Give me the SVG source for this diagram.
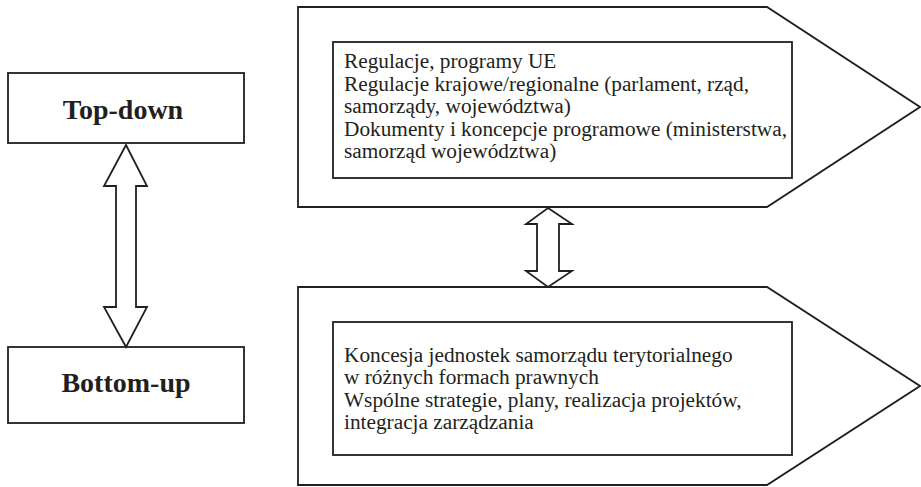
<svg xmlns="http://www.w3.org/2000/svg" width="921" height="487" viewBox="0 0 921 487">
<style>
.sh{fill:#fff;stroke:#231f20;stroke-width:1.8;stroke-linejoin:miter}
.lbl{font-family:"Liberation Serif","Times New Roman",serif;font-weight:bold;font-size:28px;fill:#231f20;text-anchor:middle}
.txt{font-family:"Liberation Serif","Times New Roman",serif;font-size:21.3px;fill:#231f20}
</style>
<rect width="921" height="487" fill="#fff"/>
<g id="top-down">
<rect class="sh" x="8" y="73" width="236" height="70"/>
<text class="lbl" x="123" y="119">Top-down</text>
</g>
<g id="bottom-up">
<rect class="sh" x="8" y="347" width="236" height="76"/>
<text class="lbl" x="126" y="392">Bottom-up</text>
</g>
<g id="top-panel">
<polygon class="sh" points="298,7 767,7 920,107 767,207 298,207"/>
<rect class="sh" x="333" y="42" width="459" height="136"/>
<text class="txt" x="344" y="68">Regulacje, programy UE</text>
<text class="txt" x="344" y="91">Regulacje krajowe/regionalne (parlament, rząd,</text>
<text class="txt" x="344" y="113">samorządy, województwa)</text>
<text class="txt" x="344" y="136">Dokumenty i koncepcje programowe (ministerstwa,</text>
<text class="txt" x="344" y="158">samorząd województwa)</text>
</g>
<g id="bottom-panel">
<polygon class="sh" points="298,287 767,287 920,386 767,485 298,485"/>
<rect class="sh" x="333" y="322" width="459" height="133"/>
<text class="txt" x="344" y="362">Koncesja jednostek samorządu terytorialnego</text>
<text class="txt" x="344" y="384">w różnych formach prawnych</text>
<text class="txt" x="344" y="407">Wspólne strategie, plany, realizacja projektów,</text>
<text class="txt" x="344" y="429">integracja zarządzania</text>
</g>
<g id="connectors">
<polygon class="sh" points="126,145 147,186 136,186 136,307 147,307 126,347 104,307 116,307 116,186 104,186"/>
<polygon class="sh" points="548,208 572,224 559,224 559,271 572,271 548,287 526,271 537,271 537,224 526,224"/>
</g>
</svg>
